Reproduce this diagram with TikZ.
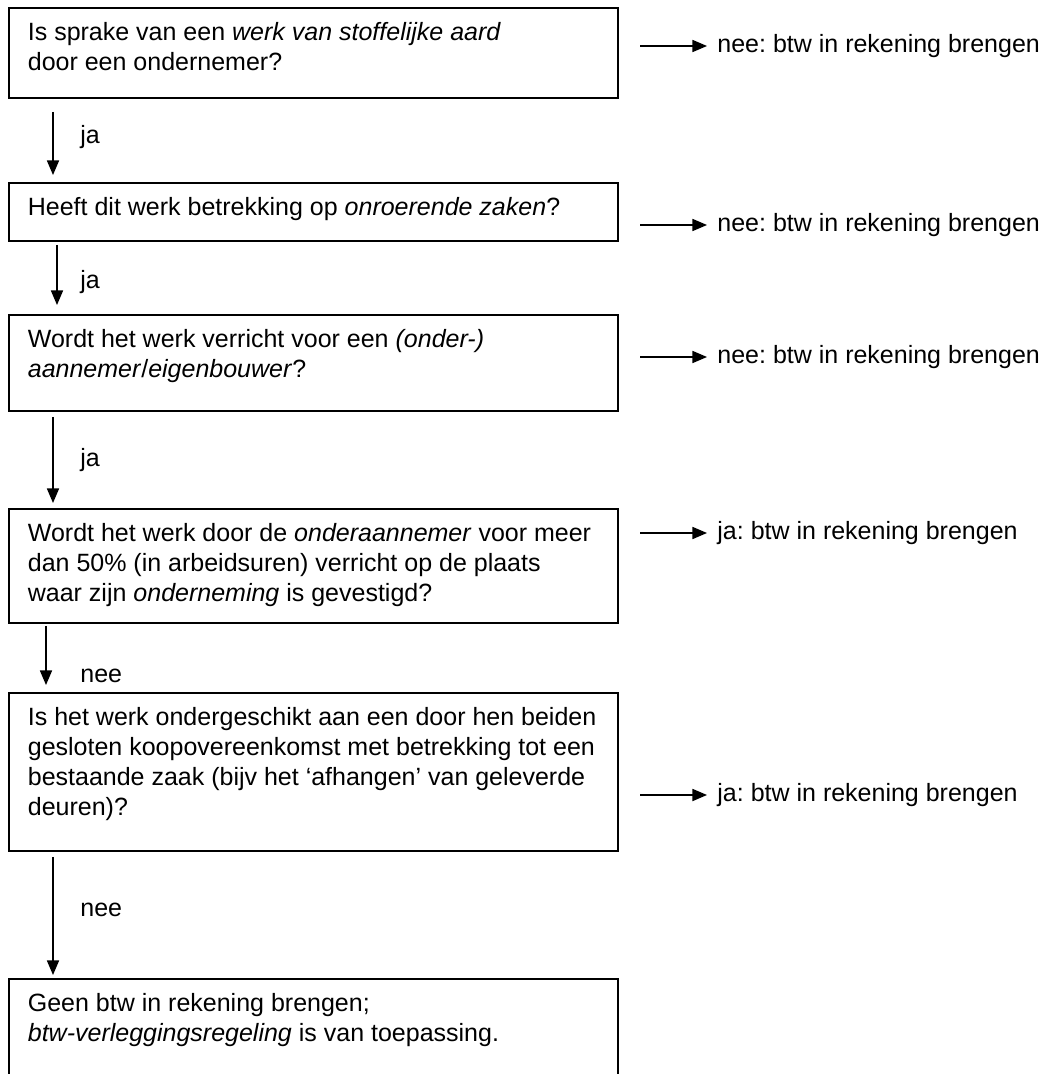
\documentclass[tikz,border=0pt]{standalone}
\usepackage{fontspec}
\setmainfont{Liberation Sans}
\usetikzlibrary{arrows.meta, calc, positioning}
\frenchspacing

\newcommand{\qtext}[2]{\parbox[c][#1][t]{274pt}{\raggedright\strut #2}}

\begin{document}
\begin{tikzpicture}[x=0.48pt, y=-0.48pt,
    every node/.style={font=\fontsize{12}{14.4}\selectfont},
    question/.style={draw, line width=0.9pt, anchor=north west, inner xsep=9.1pt, inner ysep=5.76pt},
    flow/.style={-{Triangle[length=7pt, width=5.8pt]}, line width=0.7pt},
    answer/.style={anchor=west, inner xsep=4.8pt, inner ysep=0pt},
    branch/.style={anchor=west, inner sep=0pt}]
    \useasboundingbox (0,0) rectangle (1046,1074);

        % Questions
        \node[question] (b1) at (8,7) {\qtext{31.7pt}{Is sprake van een \textit{werk van stoffelijke aard}\\ door een ondernemer?}};
        \node[question] (b2) at (8,182) {\qtext{16.3pt}{Heeft dit werk betrekking op \textit{onroerende zaken}?}};
        \node[question] (b3) at (8,314) {\qtext{34.6pt}{Wordt het werk verricht voor een \textit{(onder-)}\\ \textit{aannemer}/\textit{eigenbouwer}?}};
        \node[question] (b4) at (8,508) {\qtext{43.2pt}{Wordt het werk door de \textit{onderaannemer} voor meer\\ dan 50\% (in arbeidsuren) verricht op de plaats\\ waar zijn \textit{onderneming} is gevestigd?}};
        \node[question] (b5) at (8,692) {\qtext{64.3pt}{Is het werk ondergeschikt aan een door hen beiden\\ gesloten koopovereenkomst met betrekking tot een\\ bestaande zaak (bijv het ‘afhangen’ van geleverde\\ deuren)?}};
        \node[question] (b6) at (8,978) {\qtext{50.9pt}{Geen btw in rekening brengen;\\ \textit{btw-verleggingsregeling} is van toepassing.}};

        % Down arrows
        \draw[flow] ($(b1.south west)+(45,13)$) -- ($(b2.north west)+(45,-7)$);
        \draw[flow] ($(b2.south west)+(49,3)$) -- ($(b3.north west)+(49,-9)$);
        \draw[flow] ($(b3.south west)+(45,5)$) -- ($(b4.north west)+(45,-5)$);
        \draw[flow] ($(b4.south west)+(38,2)$) -- ($(b5.north west)+(38,-7)$);
        \draw[flow] ($(b5.south west)+(45,5)$) -- ($(b6.north west)+(45,-3)$);

        % Labels
        \node[branch] (l1) at (80,137) {ja};
        \node[branch] (l2) at (80,282) {ja};
        \node[branch] (l3) at (80,460) {ja};
        \node[branch] (l4) at (80,676) {nee};
        \node[branch] (l5) at (80,910) {nee};

        % Exits
        \coordinate (s1) at (640,46);
        \coordinate (s2) at (640,225);
        \coordinate (s3) at (640,357);
        \coordinate (s4) at (640,533);
        \coordinate (s5) at (640,795);
        \node[answer] (n1) at (707,46) {nee: btw in rekening brengen};
        \node[answer] (n2) at (707,225) {nee: btw in rekening brengen};
        \node[answer] (n3) at (707,357) {nee: btw in rekening brengen};
        \node[answer] (n4) at (707,533) {ja: btw in rekening brengen};
        \node[answer] (n5) at (707,795) {ja: btw in rekening brengen};
        \draw[flow] (s1) -- (n1.west);
        \draw[flow] (s2) -- (n2.west);
        \draw[flow] (s3) -- (n3.west);
        \draw[flow] (s4) -- (n4.west);
        \draw[flow] (s5) -- (n5.west);
\end{tikzpicture}
\end{document}
